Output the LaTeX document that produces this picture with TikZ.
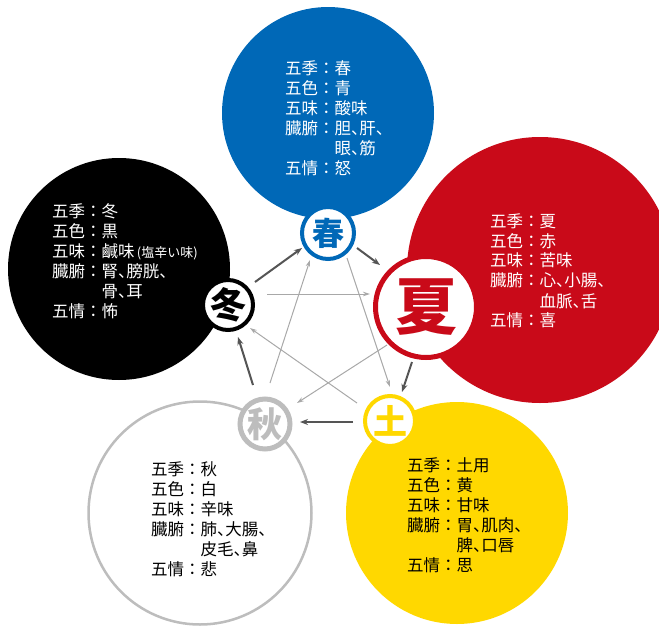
\documentclass[tikz,border=0pt]{standalone}
\usepackage{fontspec}
\setmainfont{Noto Sans CJK JP}
\newfontfamily\haltfont[RawFeature=+halt]{Noto Sans CJK JP}
\newcommand{\tenmark}{{\haltfont 、}}
\usetikzlibrary{arrows.meta}

\definecolor{springblue}{HTML}{0068B7}
\definecolor{summerred}{HTML}{C90A19}
\definecolor{doyoyellow}{HTML}{FFD800}
\definecolor{autumngray}{HTML}{BDBDBD}
\definecolor{arrowdark}{HTML}{555555}
\definecolor{arrowlight}{HTML}{A8A8A8}

\tikzset{
  season/.style={circle, fill=#1, inner sep=0pt},
  badge/.style={circle, draw=#1, fill=white, text=#1, inner sep=0pt},
  badgefont/.style={font=\bfseries\fontsize{#1}{#1}\selectfont},
  info/.style={anchor=north west, inner sep=0pt, align=left, font=\fontsize{16.5}{20}\selectfont},
  cycle arrow/.style={draw=arrowdark, line width=2pt, -{Stealth[length=8pt,width=6pt]}},
  cross arrow/.style={draw=arrowlight, line width=1pt, -{Stealth[length=7pt,width=4.5pt]}},
}

\begin{document}
\begin{tikzpicture}[x=1pt,y=-1pt]
		\useasboundingbox (0,0) rectangle (659,627);
		% seasons
		\node (springdisc)[season=springblue, minimum size=212pt] at (328,113){};
		\node (summerdisc)[season=summerred, minimum size=266pt] at (540,270){};
		\node (winterdisc)[season=black, minimum size=222pt] at (119,269){};
		\node (autumndisc)[season=white, draw=autumngray, line width=2.5pt, minimum size=223pt] at (200,513){};
		\node (doyodisc)[season=doyoyellow, minimum size=222pt] at (457,513){};
		%
		\node (springinfo)[info, text=white] at (285,60){五季：春\\五色：青\\五味：酸味\\臓腑：胆\tenmark 肝\tenmark\\\hspace*{3em}眼\tenmark 筋\\五情：怒};
		\node (summerinfo)[info, text=white] at (490,213){五季：夏\\五色：赤\\五味：苦味\\臓腑：心\tenmark 小腸\tenmark\\\hspace*{3em}血脈\tenmark 舌\\五情：喜};
		\node (winterinfo)[info, text=white] at (52,203){五季：冬\\五色：黒\\五味：鹹味{\fontsize{13}{13}\selectfont\,(塩辛い味)}\\臓腑：腎\tenmark 膀胱\tenmark\\\hspace*{3em}骨\tenmark 耳\\五情：怖};
		\node (autumninfo)[info, text=black] at (151,461){五季：秋\\五色：白\\五味：辛味\\臓腑：肺\tenmark 大腸\tenmark\\\hspace*{3em}皮毛\tenmark 鼻\\五情：悲};
		\node (doyoinfo)[info, text=black] at (407,457){五季：土用\\五色：黄\\五味：甘味\\臓腑：胃\tenmark 肌肉\tenmark\\\hspace*{3em}脾\tenmark 口唇\\五情：思};
		%
		\node (spring)[badge=springblue, line width=4pt, minimum size=52pt, badgefont=32] at (328,233){春};
		\node (summer)[badge=summerred, line width=5pt, minimum size=101pt, badgefont=62] at (426,307){夏};
		\node (winter)[badge=black, line width=4pt, minimum size=50pt, badgefont=36] at (228,305){冬};
		\node (autumn)[badge=autumngray, line width=5pt, minimum size=50pt, badgefont=35] at (265,424){秋};
		\node (doyo)[badge=doyoyellow, line width=4pt, minimum size=50pt, badgefont=34] at (390,421){土};
		% generating cycle
		\draw[cycle arrow] ([shift={(27,-23)}]winter.center) -- ([shift={(-26,15)}]spring.center);
		\draw[cycle arrow] ([shift={(29,15)}]spring.center) -- ([shift={(-46,-42)}]summer.center);
		\draw[cycle arrow] ([shift={(-14,55)}]summer.center) -- ([shift={(12,-29)}]doyo.center);
		\draw[cycle arrow] ([shift={(-37,1)}]doyo.center) -- ([shift={(35,-2)}]autumn.center);
		\draw[cycle arrow] ([shift={(-12,-39)}]autumn.center) -- ([shift={(10,32)}]winter.center);
		% controlling star
		\draw[cross arrow] ([shift={(39,-11)}]winter.center) -- ([shift={(-56,-13)}]summer.center);
		\draw[cross arrow] ([shift={(19,25)}]spring.center) -- ([shift={(0,-34)}]doyo.center);
		\draw[cross arrow] ([shift={(-39,38)}]summer.center) -- ([shift={(32,-21)}]autumn.center);
		\draw[cross arrow] ([shift={(-33,-18)}]doyo.center) -- ([shift={(22,23)}]winter.center);
		\draw[cross arrow] ([shift={(5,-41)}]autumn.center) -- ([shift={(-18,27)}]spring.center);
	\end{tikzpicture}
\end{document}
